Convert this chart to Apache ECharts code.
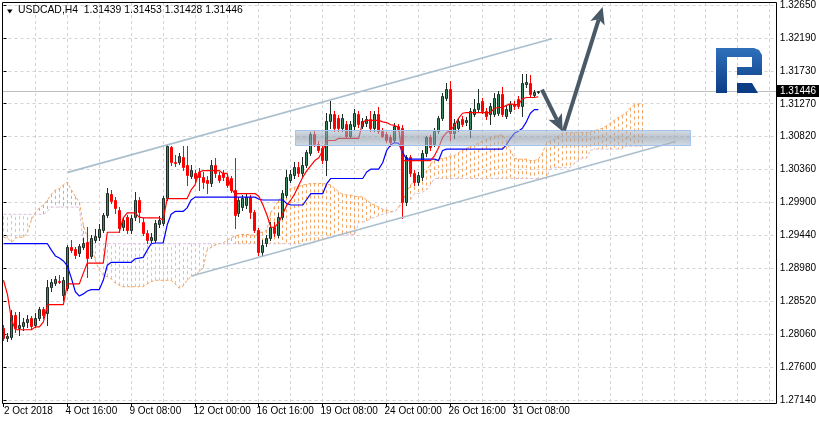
<!DOCTYPE html>
<html><head><meta charset="utf-8">
<script src="https://cdn.jsdelivr.net/npm/echarts@6.0.0/dist/echarts.min.js"></script>
<style>html,body{margin:0;padding:0;background:#fff}#c{width:819px;height:424px}</style>
</head><body><div id="c"></div>
<script>
// ---------- data ----------
const headerText = 'USDCAD,H4  1.31439 1.31453 1.31428 1.31446';
const yLabels = ['1.27140','1.27600','1.28060','1.28520','1.28980','1.29440','1.29900','1.30360','1.30820','1.31270','1.31730','1.32190','1.32650'];
const yMin = 1.27140, yMax = 1.32650;
const xLabelBars = [0,16,32,48,64,80,96,112,128];
const xLabels = ['2 Oct 2018','4 Oct 16:00','9 Oct 08:00','12 Oct 00:00','16 Oct 16:00','19 Oct 08:00','24 Oct 00:00','26 Oct 16:00','31 Oct 08:00'];
const gridBars = [8,16,24,32,40,48,56,64,72,80,88,96,104,112,120,128,136,144,152,160,168,176,184,192];

const open = [
1.28147,1.28008,1.28022,1.28328,1.28147,1.28175,1.28230,1.28286,1.28189,1.28286,
1.28411,1.28355,1.28717,1.28772,1.28800,1.28606,1.28703,1.29273,1.29245,1.29190,
1.29273,1.29342,1.29148,1.29370,1.29412,1.29509,1.29718,1.30010,1.29926,1.29787,
1.29551,1.29690,1.29509,1.29690,1.29926,1.29620,1.29467,1.29370,1.29370,1.29592,
1.29606,1.29954,1.30663,1.30454,1.30454,1.30524,1.30413,1.30260,1.30301,1.30315,
1.30246,1.30204,1.30163,1.30413,1.30273,1.30301,1.30246,1.30232,1.30066,1.29745,
1.29829,1.29857,1.29968,1.29759,1.29509,1.29203,1.29329,1.29398,1.29551,1.29440,
1.29690,1.29996,1.30204,1.30273,1.30385,1.30301,1.30413,1.30579,1.30857,1.30718,
1.30649,1.30482,1.31038,1.31135,1.31080,1.30941,1.30997,1.30829,1.30969,1.31135,
1.30969,1.31010,1.31066,1.30941,1.31135,1.30899,1.30857,1.30802,1.30760,1.30969,
1.30941,1.29898,1.30524,1.30301,1.30176,1.30246,1.30579,1.30802,1.30718,1.30899,
1.31080,1.31358,1.31483,1.30871,1.30941,1.31066,1.31024,1.30927,1.31135,1.31205,
1.31316,1.31177,1.31135,1.31135,1.31149,1.31413,1.31108,1.31177,1.31274,1.31344,
1.31247,1.31552,1.31566,1.31399,1.31439];
const high = [
1.28189,1.28077,1.28397,1.28369,1.28369,1.28286,1.28328,1.28314,1.28355,1.28439,
1.28439,1.28814,1.28828,1.28870,1.28884,1.28856,1.29301,1.29370,1.29273,1.29315,
1.29398,1.29551,1.29440,1.29523,1.29592,1.29745,1.30093,1.30066,1.29968,1.29829,
1.29690,1.29718,1.29718,1.30038,1.29968,1.29676,1.29509,1.29467,1.29648,1.29704,
1.29982,1.30704,1.30690,1.30551,1.30579,1.30690,1.30690,1.30413,1.30343,1.30371,
1.30315,1.30260,1.30482,1.30510,1.30315,1.30343,1.30287,1.30260,1.30510,1.29968,
1.29996,1.30010,1.29996,1.29787,1.29537,1.29370,1.29440,1.29620,1.29620,1.29745,
1.30066,1.30343,1.30343,1.30454,1.30454,1.30524,1.30621,1.30885,1.30899,1.30746,
1.30677,1.31149,1.31316,1.31177,1.31122,1.31135,1.31038,1.31038,1.31205,1.31177,
1.31080,1.31108,1.31177,1.31177,1.31233,1.30941,1.30885,1.30843,1.31010,1.30997,
1.30983,1.30551,1.30551,1.30343,1.30315,1.30621,1.30829,1.30843,1.30941,1.31108,
1.31427,1.31566,1.31594,1.31066,1.31080,1.31108,1.31094,1.31219,1.31344,1.31483,
1.31358,1.31219,1.31288,1.31427,1.31455,1.31511,1.31247,1.31316,1.31316,1.31385,
1.31691,1.31691,1.31677,1.31469,1.31453];
const low = [
1.27980,1.27966,1.27994,1.28091,1.28050,1.28119,1.28161,1.28133,1.28161,1.28258,
1.28286,1.28189,1.28661,1.28745,1.28772,1.28536,1.28675,1.29203,1.29120,1.29148,
1.29245,1.28856,1.29120,1.29342,1.29370,1.29481,1.29690,1.29884,1.29745,1.29481,
1.29509,1.29467,1.29467,1.29648,1.29620,1.29440,1.29329,1.29342,1.29342,1.29551,
1.29579,1.29926,1.30413,1.30399,1.30426,1.30343,1.30135,1.30232,1.30163,1.30066,
1.30093,1.30024,1.30121,1.30246,1.30176,1.30204,1.30107,1.30038,1.29537,1.29704,
1.29787,1.29815,1.29676,1.29481,1.29162,1.29148,1.29287,1.29370,1.29426,1.29412,
1.29662,1.29968,1.30176,1.30232,1.30260,1.30260,1.30385,1.30551,1.30690,1.30593,
1.30440,1.30273,1.30941,1.30899,1.30899,1.30899,1.30788,1.30788,1.30927,1.30955,
1.30941,1.30969,1.30899,1.30899,1.30871,1.30802,1.30732,1.30690,1.30732,1.30899,
1.29676,1.29857,1.30260,1.30135,1.30135,1.30204,1.30538,1.30621,1.30677,1.30871,
1.31052,1.31330,1.30760,1.30788,1.30899,1.30969,1.30983,1.30802,1.31108,1.31177,
1.31149,1.31066,1.30997,1.31108,1.31122,1.31108,1.31080,1.31149,1.31205,1.31219,
1.31108,1.31511,1.31385,1.31372,1.31428];
const close = [
1.28008,1.28036,1.28328,1.28147,1.28189,1.28230,1.28272,1.28175,1.28286,1.28411,
1.28328,1.28717,1.28786,1.28828,1.28795,1.28814,1.29273,1.29231,1.29162,1.29287,
1.29329,1.29120,1.29398,1.29426,1.29523,1.29718,1.30024,1.29912,1.29815,1.29537,
1.29648,1.29509,1.29676,1.29926,1.29759,1.29467,1.29370,1.29412,1.29606,1.29648,
1.29954,1.30677,1.30454,1.30440,1.30538,1.30385,1.30273,1.30343,1.30232,1.30246,
1.30176,1.30163,1.30413,1.30301,1.30204,1.30246,1.30135,1.30066,1.29718,1.29926,
1.29954,1.29968,1.29759,1.29509,1.29203,1.29301,1.29398,1.29551,1.29467,1.29690,
1.30024,1.30246,1.30287,1.30385,1.30301,1.30413,1.30593,1.30857,1.30718,1.30621,
1.30482,1.31038,1.31135,1.30941,1.30941,1.31080,1.30829,1.30997,1.31149,1.30997,
1.31038,1.31066,1.30941,1.31135,1.30899,1.30829,1.30760,1.30732,1.30969,1.30927,
1.29898,1.30524,1.30301,1.30176,1.30273,1.30579,1.30802,1.30663,1.30899,1.31080,
1.31385,1.31483,1.30871,1.31010,1.31038,1.30997,1.31052,1.31177,1.31205,1.31288,
1.31177,1.31108,1.31247,1.31358,1.31413,1.31135,1.31205,1.31274,1.31247,1.31247,
1.31566,1.31580,1.31413,1.31441,1.31446];

const tenkan = [
1.2881,1.2861,1.2826,1.2812,1.2812,1.2812,1.2812,1.2812,1.2816,1.2816,
1.2823,1.2847,1.2847,1.2847,1.2847,1.2847,1.2876,1.2876,1.2876,1.2876,
1.2891,1.2905,1.2905,1.2905,1.2905,1.2905,1.2948,1.2948,1.2948,1.2948,
1.2968,1.2975,1.2975,1.2975,1.2969,1.2968,1.2968,1.2968,1.2968,1.2968,
1.2965,1.2995,1.2995,1.2995,1.2995,1.2995,1.2995,1.3007,1.3014,1.3032,
1.3034,1.3034,1.3034,1.3034,1.3034,1.3030,1.3030,1.3009,1.3002,1.3002,
1.3002,1.3002,1.3002,1.3002,1.2998,1.2986,1.2972,1.2955,1.2955,1.2962,
1.2974,1.2986,1.2993,1.3002,1.3014,1.3025,1.3034,1.3041,1.3048,1.3052,
1.3062,1.3076,1.3076,1.3076,1.3079,1.3079,1.3079,1.3079,1.3079,1.3079,
1.3102,1.3104,1.3104,1.3104,1.3104,1.3102,1.3101,1.3098,1.3097,1.3094,
1.3048,1.3048,1.3048,1.3048,1.3048,1.3048,1.3048,1.3048,1.3055,1.3066,
1.3080,1.3087,1.3090,1.3097,1.3107,1.3114,1.3115,1.3115,1.3115,1.3115,
1.3115,1.3115,1.3115,1.3121,1.3122,1.3122,1.3125,1.3127,1.3126,1.3126,
1.3134,1.3136,1.3136,1.3136,1.3137];
const kijun = [
1.2932,1.2932,1.2932,1.2932,1.2932,1.2932,1.2932,1.2932,1.2932,1.2932,
1.2932,1.2932,1.2923,1.2915,1.2912,1.2908,1.2901,1.2884,1.2865,1.2859,
1.2862,1.2866,1.2868,1.2868,1.2868,1.2881,1.2902,1.2906,1.2906,1.2906,
1.2906,1.2906,1.2906,1.2911,1.2912,1.2913,1.2923,1.2932,1.2933,1.2933,
1.2933,1.2958,1.2973,1.2977,1.2977,1.2977,1.2982,1.2993,1.2997,1.2997,
1.2997,1.2997,1.2997,1.2997,1.2997,1.2997,1.2997,1.2997,1.2997,1.2997,
1.2997,1.2997,1.2997,1.2997,1.2994,1.2993,1.2993,1.2993,1.2993,1.2993,
1.2993,1.2988,1.2986,1.2986,1.2986,1.2986,1.2994,1.3002,1.3002,1.3002,
1.3002,1.3016,1.3023,1.3023,1.3023,1.3023,1.3023,1.3023,1.3023,1.3023,
1.3023,1.3032,1.3036,1.3036,1.3036,1.3045,1.3062,1.3070,1.3073,1.3072,
1.3059,1.3050,1.3050,1.3050,1.3050,1.3050,1.3050,1.3050,1.3050,1.3048,
1.3062,1.3064,1.3064,1.3064,1.3064,1.3064,1.3064,1.3064,1.3064,1.3064,
1.3064,1.3064,1.3064,1.3064,1.3064,1.3064,1.3070,1.3079,1.3086,1.3089,
1.3093,1.3102,1.3114,1.3119,1.3119];
const senkouA = [
1.2941,1.2940,1.2934,1.2940,1.2941,1.2941,1.2948,1.2965,1.2976,1.2982,
1.2986,1.2993,1.3001,1.3007,1.3009,1.3014,1.3018,1.3007,1.2998,1.2990,
1.2958,1.2941,1.2929,1.2909,1.2895,1.2888,1.2886,1.2883,1.2877,1.2874,
1.2872,1.2872,1.2872,1.2872,1.2872,1.2872,1.2876,1.2879,1.2881,1.2881,
1.2881,1.2881,1.2881,1.2876,1.2870,1.2873,1.2881,1.2886,1.2888,1.2893,
1.2898,1.2923,1.2927,1.2930,1.2932,1.2933,1.2937,1.2940,1.2943,1.2944,
1.2945,1.2945,1.2944,1.2944,1.2948,1.2948,1.2951,1.2976,1.2984,1.2993,
1.3000,1.3005,1.3009,1.3011,1.3012,1.3014,1.3015,1.3016,1.3016,1.3016,
1.3016,1.3015,1.3014,1.3009,1.3004,1.3001,1.3000,1.3000,1.2998,1.2998,
1.2997,1.2993,1.2988,1.2986,1.2983,1.2980,1.2979,1.2977,1.2977,1.2983,
1.2992,1.3004,1.3014,1.3020,1.3025,1.3027,1.3034,1.3044,1.3048,1.3050,
1.3051,1.3052,1.3054,1.3055,1.3059,1.3062,1.3065,1.3068,1.3070,1.3072,
1.3075,1.3077,1.3080,1.3082,1.3083,1.3084,1.3076,1.3062,1.3051,1.3050,
1.3050,1.3050,1.3048,1.3048,1.3050,1.3058,1.3072,1.3075,1.3077,1.3082,
1.3086,1.3087,1.3087,1.3087,1.3087,1.3087,1.3087,1.3088,1.3090,1.3091,
1.3093,1.3096,1.3100,1.3104,1.3108,1.3111,1.3115,1.3121,1.3126,1.3127,
1.3127];
const senkouB = [
1.2973,1.2973,1.2973,1.2973,1.2973,1.2973,1.2973,1.2973,1.2973,1.2973,
1.2973,1.2977,1.2983,1.2983,1.2983,1.2983,1.2983,1.2983,1.2983,1.2983,
1.2932,1.2932,1.2932,1.2932,1.2932,1.2932,1.2932,1.2932,1.2932,1.2932,
1.2932,1.2932,1.2932,1.2932,1.2932,1.2932,1.2932,1.2932,1.2932,1.2932,
1.2932,1.2932,1.2932,1.2932,1.2932,1.2932,1.2932,1.2932,1.2932,1.2932,
1.2932,1.2932,1.2932,1.2932,1.2932,1.2932,1.2932,1.2932,1.2932,1.2932,
1.2932,1.2932,1.2932,1.2932,1.2932,1.2932,1.2932,1.2932,1.2932,1.2932,
1.2932,1.2932,1.2932,1.2932,1.2932,1.2932,1.2932,1.2932,1.2934,1.2937,
1.2938,1.2941,1.2941,1.2943,1.2944,1.2944,1.2944,1.2945,1.2945,1.2962,
1.2962,1.2964,1.2967,1.2969,1.2971,1.2973,1.2975,1.2976,1.2977,1.2982,
1.2990,1.2994,1.2994,1.3002,1.3002,1.3004,1.3007,1.3015,1.3023,1.3023,
1.3023,1.3023,1.3023,1.3023,1.3023,1.3023,1.3023,1.3023,1.3023,1.3023,
1.3023,1.3023,1.3023,1.3023,1.3023,1.3023,1.3023,1.3023,1.3023,1.3023,
1.3023,1.3023,1.3023,1.3023,1.3023,1.3023,1.3023,1.3036,1.3038,1.3038,
1.3038,1.3038,1.3038,1.3044,1.3048,1.3051,1.3051,1.3062,1.3064,1.3064,
1.3064,1.3064,1.3064,1.3064,1.3064,1.3064,1.3068,1.3068,1.3068,1.3068,
1.3068];

// drawing objects in (bar, price) coordinates
const channelLines = [[16.1, 1.30315, 137.4, 1.32178], [47.1, 1.28870, 168.4, 1.30746]];
const zone = [73.1, 1.30913, 172.1, 1.30704];
const arrows = [[134.9, 1.31469, 140.1, 1.30885], [140.4, 1.30899, 150.1, 1.32623]];
const bidPrice = close[close.length - 1];

// ---------- chart ----------
const FONT = 'Liberation Sans';
const step = (yMax - yMin) / 12;
const chart = echarts.init(document.getElementById('c'), null, {renderer: 'canvas'});

const cloudData = senkouA.map((a, i) => [i, a, senkouB[i]]);
const candleData = open.map((o, i) => [i, o, high[i], low[i], close[i]]);

const logoGrad = new echarts.graphic.LinearGradient(0, 0, 0, 1, [
  {offset: 0, color: '#2f70bb'}, {offset: 1, color: '#0b3d85'}]);

const option = {
  animation: false,
  backgroundColor: '#ffffff',
  textStyle: {fontFamily: FONT},
  grid: {left: 2.5, top: 4, width: 774, height: 396},
  xAxis: {type: 'value', min: -0.25, max: 193.25, show: false},
  yAxis: {
    type: 'value', position: 'right', min: yMin, max: yMax, interval: step,
    axisLine: {show: false},
    axisTick: {show: true, length: 3, lineStyle: {color: '#000'}},
    axisLabel: {margin: 5, color: '#000', fontSize: 10, fontFamily: FONT,
      formatter: v => { const k = Math.round((v - yMin) / step); return yLabels[k] || ''; }},
    splitLine: {show: true, lineStyle: {color: '#d3d3d3', type: [3, 3], width: 1}}
  },
  graphic: [
    {type: 'rect', silent: true, z: 100, shape: {x: 2.5, y: 2.5, width: 774, height: 401},
      style: {fill: 'none', stroke: '#000', lineWidth: 1}},
    {type: 'polygon', silent: true, z: 100, shape: {points: [[7, 9.5], [12.5, 9.5], [9.75, 13.5]]}, style: {fill: '#000'}},
    {type: 'text', silent: true, z: 100, x: 18, y: 5, style: {text: headerText, fill: '#000', fontSize: 10.4, fontFamily: FONT}},
    {type: 'polygon', silent: true, z: 50, shape: {points: [[716,48],[754,48],[759,50],[762,55],[762,75],[737,75],[737,67],[752,67],[752,57],[727,57],[727,93],[716,93]]}, style: {fill: logoGrad}},
    {type: 'polygon', silent: true, z: 50, shape: {points: [[737,83],[752,83],[758,93],[737,93]]}, style: {fill: '#0b3d85'}}
  ],
  series: [
    { // vertical grid
      type: 'custom', z: 1, silent: true, data: gridBars.map(b => [b, 1.3]),
      renderItem: (p, api) => {
        const x = Math.floor(api.coord([api.value(0), yMax])[0]) + 0.5;
        return {type: 'line', shape: {x1: x, y1: 3, x2: x, y2: 403}, style: {stroke: '#d3d3d3', lineWidth: 1, lineDash: [3, 3]}};
      }
    },
    { // bid line + price box
      type: 'custom', z: 1, silent: true, data: [[0, bidPrice]],
      renderItem: (p, api) => {
        const y = Math.round(api.coord([0, api.value(1)])[1]) + 0.5;
        return {type: 'group', children: [
          {type: 'line', shape: {x1: 3, y1: y, x2: 776, y2: y}, style: {stroke: '#c0c0c0', lineWidth: 1}},
          {type: 'rect', shape: {x: 777, y: y - 6.5, width: 42, height: 12}, style: {fill: '#000'}},
          {type: 'text', style: {text: bidPrice.toFixed(5), x: 780, y: y, fill: '#fff', fontSize: 10, fontFamily: FONT, align: 'left', verticalAlign: 'middle'}}
        ]};
      }
    },
    { // x labels
      type: 'custom', z: 10, silent: true, data: xLabelBars.map(b => [b, yMin]),
      renderItem: (p, api) => {
        const x = Math.floor(api.coord([api.value(0), yMin])[0]) + 0.5;
        const tx = p.dataIndex === 0 ? 4 : x - 2;
        return {type: 'group', children: [
          {type: 'line', shape: {x1: x, y1: 403, x2: x, y2: 407}, style: {stroke: '#000', lineWidth: 1}},
          {type: 'text', style: {text: xLabels[p.dataIndex], x: tx, y: 406, fill: '#000', fontSize: 10, fontFamily: FONT, align: 'left', verticalAlign: 'top'}}
        ]};
      }
    },
    { // kumo hatch
      type: 'custom', z: 2, silent: true, data: cloudData,
      renderItem: (p, api) => {
        const i = api.value(0), a = api.value(1), b = api.value(2);
        const pa = api.coord([i, a]), pb = api.coord([i, b]);
        const x = Math.floor(pa[0]) + 0.5;
        return {type: 'line', shape: {x1: x, y1: pa[1], x2: x, y2: pb[1]},
          style: {stroke: a >= b ? '#f4a460' : '#d8bfd8', lineWidth: 1, lineDash: [3, 3]}};
      }
    },
    {type: 'line', name: 'Senkou A', z: 3, silent: true, showSymbol: false, symbol: 'none',
      data: senkouA.map((v, i) => [i, v]), lineStyle: {color: '#f4a460', width: 1, type: [3, 2]}},
    {type: 'line', name: 'Senkou B', z: 3, silent: true, showSymbol: false, symbol: 'none',
      data: senkouB.map((v, i) => [i, v]), lineStyle: {color: '#d8bfd8', width: 1, type: [3, 2]}},
    { // candles
      type: 'custom', z: 4, silent: true, data: candleData,
      renderItem: (p, api) => {
        const i = api.value(0), o = api.value(1), h = api.value(2), l = api.value(3), c = api.value(4);
        const po = api.coord([i, o]), ph = api.coord([i, h]), pl = api.coord([i, l]), pc = api.coord([i, c]);
        const x = Math.floor(po[0]) + 0.5;
        const bull = c >= o;
        const fill = bull ? '#388a5e' : '#ff0000';
        const edge = bull ? '#1e2e27' : '#ff0000';
        let top = Math.round(Math.min(po[1], pc[1])), bot = Math.round(Math.max(po[1], pc[1]));
        if (bot - top < 1) bot = top + 1;
        return {type: 'group', children: [
          {type: 'line', shape: {x1: x, y1: Math.round(ph[1]), x2: x, y2: Math.round(pl[1]) + 1}, style: {stroke: edge, lineWidth: 1}},
          {type: 'rect', shape: {x: x - 1, y: top + 0.5, width: 2, height: bot - top}, style: {fill: fill, stroke: edge, lineWidth: 1}}
        ]};
      }
    },
    {type: 'line', name: 'Kijun', z: 5, silent: true, showSymbol: false, symbol: 'none',
      data: kijun.map((v, i) => [i, v]), lineStyle: {color: '#0000ff', width: 1.2}},
    {type: 'line', name: 'Tenkan', z: 5, silent: true, showSymbol: false, symbol: 'none',
      data: tenkan.map((v, i) => [i, v]), lineStyle: {color: '#ff0000', width: 1.2}},
    { // channel
      type: 'custom', z: 6, silent: true, data: channelLines,
      renderItem: (p, api) => {
        const a = api.coord([api.value(0), api.value(1)]), b = api.coord([api.value(2), api.value(3)]);
        return {type: 'line', shape: {x1: a[0], y1: a[1], x2: b[0], y2: b[1]}, style: {stroke: '#a9bfce', lineWidth: 1.6}};
      }
    },
    { // zone
      type: 'custom', z: 7, silent: true, data: [zone],
      renderItem: (p, api) => {
        const a = api.coord([api.value(0), api.value(1)]), b = api.coord([api.value(2), api.value(3)]);
        const g = new echarts.graphic.LinearGradient(0, 0, 0, 1, [
          {offset: 0, color: 'rgba(175,190,208,0.55)'},
          {offset: 0.5, color: 'rgba(140,152,168,0.6)'},
          {offset: 1, color: 'rgba(175,190,208,0.55)'}]);
        return {type: 'rect', shape: {x: Math.round(a[0]) + 0.5, y: Math.round(a[1]) + 0.5, width: Math.round(b[0] - a[0]), height: Math.round(b[1] - a[1])},
          style: {fill: g, stroke: '#a3c2ec', lineWidth: 1}};
      }
    },
    { // arrows
      type: 'custom', z: 8, silent: true, data: arrows,
      renderItem: (p, api) => {
        const a = api.coord([api.value(0), api.value(1)]), b = api.coord([api.value(2), api.value(3)]);
        const dx = b[0] - a[0], dy = b[1] - a[1], len = Math.hypot(dx, dy);
        const ux = dx / len, uy = dy / len, nx = -uy, ny = ux;
        const L = 17, W = 7.5, N = 4;
        const base = [b[0] - ux * L, b[1] - uy * L];
        const notch = [b[0] - ux * (L - N), b[1] - uy * (L - N)];
        const col = '#4a5966';
        return {type: 'group', children: [
          {type: 'line', shape: {x1: a[0], y1: a[1], x2: notch[0], y2: notch[1]}, style: {stroke: col, lineWidth: 4}},
          {type: 'polygon', shape: {points: [[b[0], b[1]], [base[0] + nx * W, base[1] + ny * W], notch, [base[0] - nx * W, base[1] - ny * W]]}, style: {fill: col}}
        ]};
      }
    }
  ]
};
chart.setOption(option);
</script></body></html>
